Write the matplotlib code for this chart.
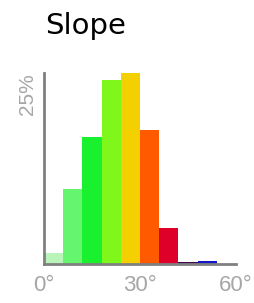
import matplotlib.pyplot as plt

# Histograma de pendiente (bins de 6 grados)
bin_edges = [0, 6, 12, 18, 24, 30, 36, 42, 48, 54]
porcentajes = [1.4, 9.8, 16.6, 24.1, 25.0, 17.5, 4.7, 0.2, 0.4, 0.0]
colores = ["#b9f5b9", "#66f56e", "#19f02e", "#80f71a", "#f5d000",
           "#ff5a00", "#de0028", "#3a0a50", "#1414c8", "#ffffff"]
xticks = [0, 30, 60]
xtick_labels = ["0°", "30°", "60°"]
yticks = [25]
ytick_labels = ["25%"]

fig = plt.figure(figsize=(2.54, 3.03), dpi=100)
ax = fig.add_axes([0.173, 0.1287, 0.756, 0.630])

ax.bar(bin_edges, porcentajes, width=6, align="edge", color=colores, linewidth=0)

ax.set_xlim(0, 60)
ax.set_ylim(0, 25)

for lado in ["top", "right"]:
    ax.spines[lado].set_visible(False)
for lado in ["left", "bottom"]:
    ax.spines[lado].set_color("#808080")
    ax.spines[lado].set_linewidth(2)

ax.set_xticks(xticks, xtick_labels, color="#a6a6a6", fontsize=16,
              family="Liberation Sans")
ax.set_yticks(yticks, ytick_labels, color="#a6a6a6", fontsize=15,
              family="Liberation Sans", rotation=90, va="top")
ax.tick_params(length=0)
ax.tick_params(axis="x", pad=8)
ax.tick_params(axis="y", pad=5)

fig.text(0.177, 0.96, "Slope", fontsize=21, color="black", va="top",
         family="DejaVu Sans")

plt.savefig("out.png", dpi=100)
